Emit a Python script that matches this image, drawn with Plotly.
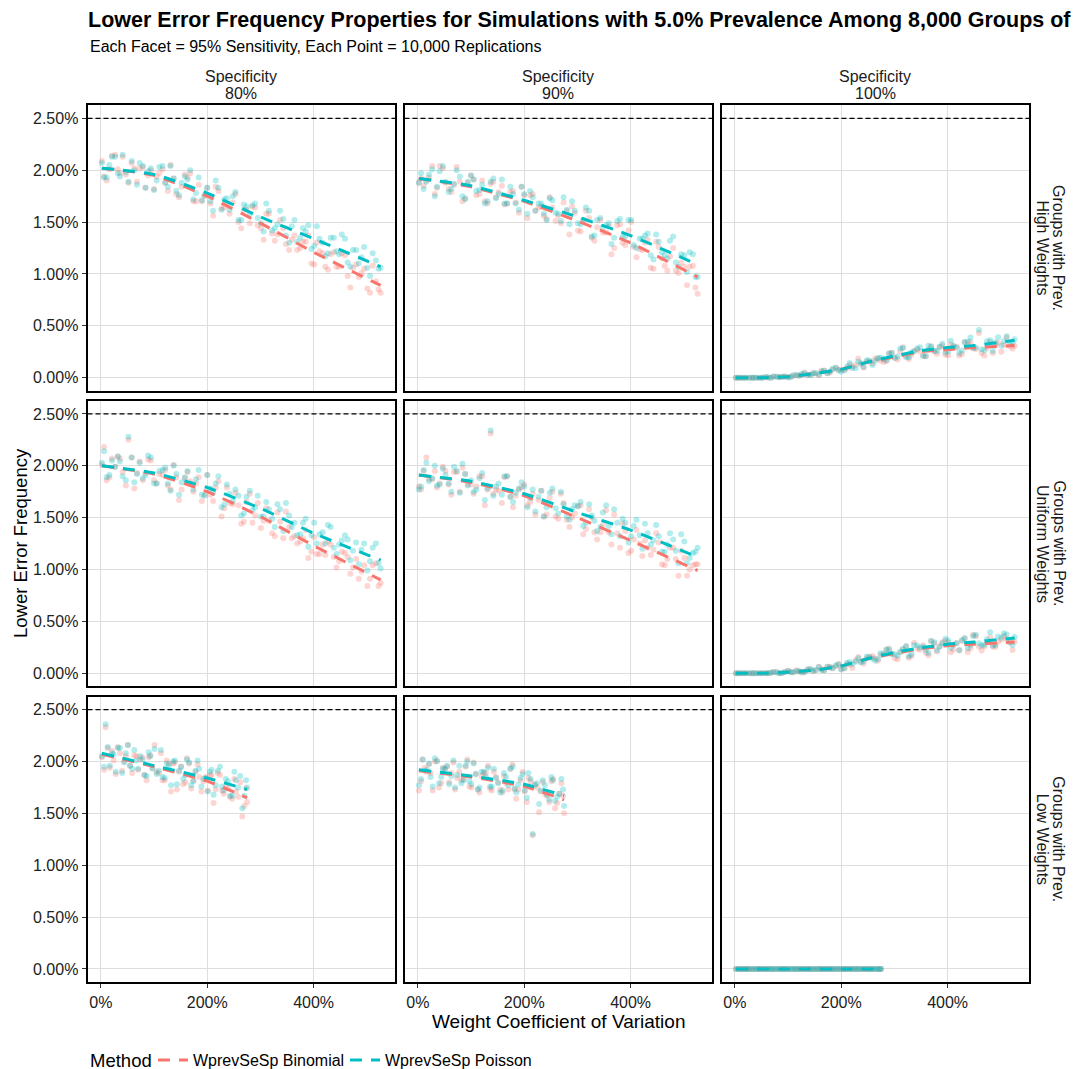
import plotly.graph_objects as go

W, H = 1084, 1069
OFF = 8  # page body margin of the html page (px)
FONT = "Liberation Sans, Arial, Helvetica, sans-serif"

METHODS = ["WprevSeSp Binomial", "WprevSeSp Poisson"]
COLORS = ["#F8766D", "#00BFC4"]
SPECIFICITY = ["80%", "90%", "100%"]
WEIGHTS = ["High Weights", "Uniform Weights", "Low Weights"]
Y_TICKS = [0.0, 0.5, 1.0, 1.5, 2.0, 2.5]
Y_TICK_TEXT = ["0.00%", "0.50%", "1.00%", "1.50%", "2.00%", "2.50%"]
X_TICKS = [0, 200, 400]
X_TICK_TEXT = ["0%", "200%", "400%"]
NOMINAL = 2.5  # nominal one-sided error (%)

# Weight coefficient of variation (%) of the simulated settings
X_FULL = [2, 11, 21, 32, 41, 52, 63, 73, 84, 94, 105, 116, 126, 137, 147, 158, 168, 179, 190, 200,
          211, 221, 232, 242, 253, 264, 274, 285, 295, 306, 316, 327, 337, 348, 359, 369, 380, 390,
          401, 411, 422, 432, 443, 453, 464, 474, 485, 495, 506, 517, 526]
X_FULL_B = [6, 16, 27, 36, 47, 58, 68, 79, 89, 100, 110, 121, 131, 142, 152, 163, 174, 184, 195, 206,
            216, 227, 237, 248, 259, 269, 280, 290, 301, 311, 322, 332, 343, 354, 364, 375, 385, 396,
            406, 417, 427, 438, 448, 459, 469, 480, 490, 501, 511, 522]
X_SHORT = [2, 9, 17, 24, 32, 40, 47, 55, 63, 70, 78, 86, 93, 101, 109, 116, 124, 132, 139, 147,
           155, 162, 170, 178, 185, 193, 201, 208, 216, 224, 231, 239, 247, 254, 262, 270, 275]
X_SHORT_B = [6, 13, 21, 28, 36, 44, 51, 59, 67, 74, 82, 90, 97, 105, 113, 120, 128, 136, 143, 151,
             159, 166, 174, 182, 189, 197, 205, 212, 220, 228, 235, 243, 251, 258, 266, 273]

# ---------------- Lower error frequency (%) : High weights row ----------------
HIGH_SP80_BIN = [2.09, 1.90, 2.14, 2.01, 2.13, 1.88, 2.02, 2.02, 1.83, 2.00, 1.94, 2.01, 1.80, 1.92, 1.74, 1.96, 1.97, 1.70, 1.70, 1.83,
                 1.56, 1.80, 1.64, 1.58, 1.77, 1.44, 1.62, 1.65, 1.47, 1.33, 1.58, 1.32, 1.52, 1.29, 1.33, 1.23, 1.31, 1.37, 1.09, 1.22,
                 1.07, 1.19, 1.07, 1.20, 0.98, 1.06, 0.97, 1.05, 0.82, 0.93, 0.82]
HIGH_SP80_POI = [2.07, 1.93, 2.13, 1.97, 2.15, 1.89, 2.00, 2.07, 1.83, 2.02, 1.90, 2.04, 1.84, 1.92, 1.76, 1.94, 2.00, 1.78, 1.71, 1.83,
                 1.61, 1.83, 1.72, 1.62, 1.79, 1.52, 1.65, 1.66, 1.54, 1.41, 1.61, 1.44, 1.61, 1.37, 1.46, 1.31, 1.44, 1.47, 1.27, 1.34,
                 1.17, 1.35, 1.22, 1.38, 1.11, 1.23, 1.10, 1.26, 0.98, 1.13, 1.06]
HIGH_SP80_BIN_B = [1.94, 2.01, 2.15, 1.97, 1.96, 2.07, 1.89, 2.03, 1.95, 1.82, 1.97, 1.88, 2.05, 1.77, 1.84, 1.93, 1.70, 1.86, 1.75, 1.68,
                   1.84, 1.63, 1.68, 1.69, 1.50, 1.62, 1.49, 1.64, 1.44, 1.58, 1.39, 1.38, 1.44, 1.23, 1.37, 1.25, 1.31, 1.10, 1.30, 1.20,
                   1.04, 1.21, 1.07, 1.18, 0.87, 1.09, 1.01, 0.86, 1.08, 0.85]
HIGH_SP80_POI_B = [1.93, 2.05, 2.13, 1.94, 1.98, 2.09, 1.86, 2.04, 1.99, 1.81, 2.03, 1.88, 2.04, 1.80, 1.88, 1.91, 1.72, 1.93, 1.76, 1.70,
                   1.90, 1.62, 1.73, 1.75, 1.52, 1.67, 1.58, 1.68, 1.49, 1.68, 1.42, 1.48, 1.53, 1.30, 1.52, 1.35, 1.41, 1.24, 1.46, 1.30,
                   1.20, 1.35, 1.19, 1.34, 1.07, 1.23, 1.16, 1.06, 1.20, 1.05]
HIGH_SP90_BIN = [1.88, 1.85, 1.93, 1.77, 2.04, 1.88, 1.79, 2.03, 1.70, 1.88, 1.91, 1.77, 1.70, 1.87, 1.74, 1.85, 1.68, 1.80, 1.59, 1.76,
                 1.76, 1.61, 1.65, 1.53, 1.64, 1.56, 1.69, 1.38, 1.59, 1.41, 1.61, 1.35, 1.45, 1.40, 1.46, 1.25, 1.48, 1.28, 1.50, 1.16,
                 1.23, 1.33, 1.05, 1.26, 1.08, 1.17, 1.03, 1.11, 0.89, 1.08, 0.81]
HIGH_SP90_POI = [1.88, 1.82, 1.96, 1.75, 1.99, 1.89, 1.82, 2.00, 1.75, 1.89, 1.91, 1.81, 1.68, 1.89, 1.73, 1.91, 1.68, 1.77, 1.62, 1.77,
                 1.80, 1.61, 1.68, 1.52, 1.71, 1.58, 1.74, 1.48, 1.61, 1.48, 1.64, 1.36, 1.52, 1.45, 1.49, 1.35, 1.53, 1.36, 1.52, 1.25,
                 1.34, 1.39, 1.14, 1.31, 1.18, 1.32, 1.11, 1.19, 1.02, 1.19, 0.97]
HIGH_SP90_BIN_B = [1.92, 1.90, 2.04, 1.83, 2.02, 1.82, 1.86, 1.89, 1.73, 1.95, 1.76, 1.90, 1.68, 1.89, 1.79, 1.67, 1.79, 1.69, 1.84, 1.54,
                   1.77, 1.64, 1.56, 1.74, 1.51, 1.49, 1.61, 1.65, 1.42, 1.52, 1.54, 1.32, 1.52, 1.40, 1.19, 1.47, 1.30, 1.42, 1.26, 1.24,
                   1.30, 1.06, 1.31, 1.15, 1.03, 1.25, 1.01, 1.07, 1.07, 0.87]
HIGH_SP90_POI_B = [1.97, 1.89, 2.01, 1.84, 2.04, 1.79, 1.87, 1.94, 1.72, 1.95, 1.80, 1.86, 1.70, 1.92, 1.77, 1.68, 1.84, 1.68, 1.84, 1.58,
                   1.74, 1.68, 1.58, 1.73, 1.59, 1.51, 1.62, 1.70, 1.49, 1.52, 1.61, 1.37, 1.54, 1.47, 1.29, 1.51, 1.36, 1.52, 1.28, 1.34,
                   1.37, 1.18, 1.38, 1.21, 1.15, 1.36, 1.07, 1.18, 1.21, 0.97]
HIGH_SP100_BIN = [0.000, 0.000, 0.000, 0.000, 0.000, 0.000, 0.001, 0.012, 0.003, 0.011, 0.011, 0.024, 0.027, 0.029, 0.046, 0.024, 0.068, 0.051, 0.095, 0.076,
                  0.090, 0.106, 0.185, 0.098, 0.154, 0.185, 0.165, 0.161, 0.237, 0.176, 0.294, 0.181, 0.257, 0.254, 0.203, 0.305, 0.230, 0.310, 0.217, 0.301,
                  0.213, 0.341, 0.343, 0.277, 0.237, 0.286, 0.237, 0.334, 0.316, 0.302, 0.308]
HIGH_SP100_POI = [0.000, 0.000, 0.000, 0.000, 0.000, 0.000, 0.001, 0.012, 0.003, 0.011, 0.003, 0.026, 0.037, 0.025, 0.040, 0.028, 0.066, 0.059, 0.095, 0.058,
                  0.108, 0.094, 0.155, 0.104, 0.166, 0.164, 0.194, 0.168, 0.240, 0.204, 0.286, 0.197, 0.255, 0.294, 0.209, 0.295, 0.258, 0.328, 0.255, 0.309,
                  0.239, 0.343, 0.387, 0.292, 0.274, 0.351, 0.258, 0.389, 0.351, 0.324, 0.370]
HIGH_SP100_BIN_B = [0.000, 0.000, 0.000, 0.000, 0.000, 0.007, 0.000, 0.010, 0.009, 0.006, 0.016, 0.021, 0.049, 0.025, 0.040, 0.067, 0.043, 0.078, 0.076, 0.077,
                    0.124, 0.122, 0.134, 0.155, 0.139, 0.184, 0.150, 0.235, 0.189, 0.253, 0.210, 0.220, 0.271, 0.214, 0.267, 0.252, 0.294, 0.220, 0.320, 0.296,
                    0.229, 0.330, 0.283, 0.431, 0.212, 0.341, 0.312, 0.251, 0.387, 0.282]
HIGH_SP100_POI_B = [0.000, 0.000, 0.000, 0.000, 0.000, 0.007, 0.000, 0.010, 0.009, 0.002, 0.026, 0.019, 0.043, 0.027, 0.044, 0.059, 0.043, 0.086, 0.072, 0.071,
                    0.142, 0.092, 0.140, 0.167, 0.122, 0.188, 0.180, 0.231, 0.192, 0.281, 0.196, 0.242, 0.281, 0.206, 0.308, 0.259, 0.297, 0.243, 0.357, 0.292,
                    0.261, 0.350, 0.285, 0.460, 0.263, 0.360, 0.341, 0.308, 0.400, 0.342]

# ---------------- Uniform weights row ----------------
UNIF_SP80_BIN = [2.01, 1.86, 2.07, 2.09, 1.94, 2.25, 1.78, 2.04, 1.93, 2.05, 1.83, 1.91, 1.81, 2.01, 1.67, 1.88, 1.85, 1.83, 1.66, 1.91,
                 1.66, 1.85, 1.59, 1.64, 1.74, 1.44, 1.65, 1.45, 1.64, 1.47, 1.47, 1.32, 1.46, 1.56, 1.30, 1.25, 1.30, 1.11, 1.31, 1.15,
                 1.14, 1.24, 1.02, 1.17, 1.12, 1.02, 0.91, 1.04, 0.91, 1.06, 0.87]
UNIF_SP80_POI = [2.03, 1.89, 2.05, 2.09, 1.90, 2.28, 1.84, 2.03, 1.91, 2.08, 1.83, 1.96, 1.83, 2.00, 1.72, 1.89, 1.83, 1.87, 1.72, 1.91,
                 1.74, 1.90, 1.63, 1.73, 1.77, 1.52, 1.70, 1.57, 1.71, 1.51, 1.58, 1.41, 1.58, 1.64, 1.41, 1.33, 1.45, 1.22, 1.45, 1.34,
                 1.25, 1.41, 1.15, 1.28, 1.29, 1.18, 1.05, 1.25, 1.08, 1.25, 1.01]
UNIF_SP80_BIN_B = [2.18, 1.89, 1.99, 2.07, 1.81, 2.08, 1.93, 1.86, 2.06, 1.86, 1.92, 1.96, 1.77, 1.89, 1.77, 1.94, 1.75, 1.89, 1.72, 1.72,
                   1.79, 1.51, 1.79, 1.63, 1.62, 1.46, 1.73, 1.52, 1.40, 1.59, 1.35, 1.55, 1.30, 1.41, 1.32, 1.27, 1.38, 1.17, 1.15, 1.24,
                   1.27, 1.12, 1.08, 1.16, 0.96, 1.10, 0.98, 0.84, 1.04, 0.84]
UNIF_SP80_POI_B = [2.14, 1.91, 1.99, 2.04, 1.86, 2.08, 1.92, 1.88, 2.10, 1.83, 1.95, 1.98, 1.76, 1.92, 1.84, 1.95, 1.77, 1.96, 1.71, 1.78,
                   1.83, 1.60, 1.82, 1.66, 1.71, 1.54, 1.76, 1.60, 1.51, 1.65, 1.49, 1.63, 1.37, 1.52, 1.45, 1.34, 1.49, 1.33, 1.25, 1.36,
                   1.43, 1.21, 1.24, 1.33, 1.09, 1.26, 1.19, 0.99, 1.21, 1.06]
UNIF_SP90_BIN = [1.80, 1.95, 1.87, 1.95, 1.83, 1.95, 1.72, 1.94, 1.98, 1.82, 1.73, 1.90, 1.62, 2.31, 1.77, 1.64, 1.90, 1.60, 1.77, 1.82,
                 1.65, 1.53, 1.76, 1.53, 1.75, 1.49, 1.64, 1.41, 1.54, 1.62, 1.39, 1.50, 1.29, 1.43, 1.36, 1.53, 1.21, 1.37, 1.18, 1.38,
                 1.13, 1.21, 1.19, 1.26, 1.04, 1.21, 1.10, 1.18, 0.94, 1.04, 1.05]
UNIF_SP90_POI = [1.77, 1.96, 1.85, 2.00, 1.82, 1.91, 1.75, 1.95, 2.02, 1.81, 1.75, 1.88, 1.67, 2.34, 1.80, 1.72, 1.90, 1.65, 1.78, 1.80,
                 1.69, 1.56, 1.76, 1.60, 1.78, 1.54, 1.63, 1.48, 1.62, 1.65, 1.45, 1.52, 1.37, 1.55, 1.42, 1.58, 1.32, 1.45, 1.32, 1.48,
                 1.20, 1.35, 1.28, 1.32, 1.17, 1.35, 1.18, 1.34, 1.06, 1.16, 1.21]
UNIF_SP90_BIN_B = [1.77, 2.08, 1.87, 1.79, 1.99, 1.82, 1.94, 1.75, 1.92, 1.82, 1.80, 1.90, 1.77, 1.73, 1.76, 1.89, 1.70, 1.71, 1.79, 1.62,
                   1.73, 1.67, 1.51, 1.69, 1.51, 1.73, 1.48, 1.50, 1.61, 1.34, 1.58, 1.36, 1.36, 1.57, 1.24, 1.35, 1.44, 1.16, 1.29, 1.25,
                   1.28, 1.14, 1.35, 1.05, 1.10, 1.21, 0.94, 1.11, 1.00, 1.05]
UNIF_SP90_POI_B = [1.80, 2.03, 1.88, 1.81, 1.97, 1.83, 1.99, 1.74, 1.92, 1.86, 1.77, 1.93, 1.78, 1.71, 1.83, 1.90, 1.70, 1.74, 1.84, 1.60,
                   1.77, 1.70, 1.51, 1.74, 1.59, 1.75, 1.51, 1.58, 1.61, 1.42, 1.63, 1.47, 1.41, 1.62, 1.34, 1.45, 1.49, 1.26, 1.42, 1.33,
                   1.44, 1.24, 1.43, 1.17, 1.24, 1.29, 1.06, 1.27, 1.11, 1.17]
UNIF_SP100_BIN = [0.000, 0.000, 0.000, 0.000, 0.000, 0.000, 0.000, 0.011, 0.000, 0.011, 0.012, 0.028, 0.007, 0.035, 0.018, 0.063, 0.027, 0.062, 0.068, 0.041,
                  0.088, 0.051, 0.155, 0.094, 0.159, 0.142, 0.176, 0.223, 0.191, 0.135, 0.230, 0.148, 0.293, 0.225, 0.198, 0.310, 0.209, 0.299, 0.294, 0.228,
                  0.219, 0.338, 0.241, 0.357, 0.220, 0.301, 0.257, 0.303, 0.361, 0.293, 0.304]
UNIF_SP100_POI = [0.000, 0.000, 0.000, 0.000, 0.000, 0.000, 0.000, 0.011, 0.000, 0.011, 0.010, 0.020, 0.011, 0.035, 0.024, 0.059, 0.029, 0.056, 0.076, 0.035,
                  0.100, 0.087, 0.143, 0.112, 0.153, 0.121, 0.193, 0.230, 0.182, 0.169, 0.234, 0.164, 0.273, 0.247, 0.227, 0.310, 0.222, 0.289, 0.315, 0.274,
                  0.224, 0.338, 0.272, 0.371, 0.267, 0.327, 0.268, 0.353, 0.384, 0.300, 0.350]
UNIF_SP100_BIN_B = [0.000, 0.000, 0.000, 0.000, 0.000, 0.000, 0.004, 0.010, 0.001, 0.026, 0.009, 0.013, 0.014, 0.040, 0.025, 0.038, 0.061, 0.047, 0.090, 0.048,
                    0.083, 0.122, 0.111, 0.144, 0.165, 0.120, 0.182, 0.237, 0.143, 0.202, 0.261, 0.165, 0.238, 0.269, 0.172, 0.286, 0.259, 0.313, 0.203, 0.288,
                    0.310, 0.204, 0.370, 0.256, 0.257, 0.344, 0.253, 0.326, 0.330, 0.223]
UNIF_SP100_POI_B = [0.000, 0.000, 0.000, 0.000, 0.000, 0.000, 0.004, 0.010, 0.001, 0.020, 0.009, 0.021, 0.010, 0.038, 0.031, 0.028, 0.063, 0.051, 0.084, 0.048,
                    0.107, 0.110, 0.105, 0.162, 0.142, 0.136, 0.188, 0.227, 0.182, 0.206, 0.259, 0.181, 0.266, 0.255, 0.195, 0.298, 0.254, 0.333, 0.242, 0.292,
                    0.321, 0.240, 0.359, 0.289, 0.275, 0.395, 0.271, 0.341, 0.372, 0.273]

# ---------------- Low weights row (shorter CV range) ----------------
LOW_SP80_BIN = [2.04, 2.33, 1.94, 2.01, 2.14, 1.91, 2.05, 1.96, 2.06, 1.92, 2.04, 1.82, 2.06, 2.16, 1.89, 1.82, 2.01, 1.71, 1.99, 1.90,
                1.78, 2.03, 1.74, 1.90, 1.85, 1.81, 1.72, 1.87, 1.73, 1.87, 1.69, 1.74, 1.64, 1.71, 1.80, 1.57, 1.61]
LOW_SP80_POI = [2.05, 2.36, 1.96, 2.07, 2.13, 1.89, 2.08, 1.96, 2.11, 1.93, 2.02, 1.86, 2.05, 2.12, 1.91, 1.85, 1.98, 1.77, 2.01, 1.91,
                1.83, 2.02, 1.77, 1.91, 1.93, 1.83, 1.71, 1.92, 1.77, 1.95, 1.72, 1.81, 1.67, 1.82, 1.86, 1.67, 1.75]
LOW_SP80_BIN_B = [1.92, 2.13, 2.10, 1.88, 2.08, 2.00, 2.16, 1.89, 2.05, 2.02, 1.87, 2.04, 1.94, 1.90, 2.08, 1.82, 1.98, 1.98, 1.73, 1.95,
                  1.80, 1.98, 1.82, 1.97, 1.71, 1.85, 1.87, 1.60, 1.89, 1.72, 1.75, 1.66, 1.83, 1.66, 1.47, 1.74]
LOW_SP80_POI_B = [1.95, 2.14, 2.08, 1.90, 2.13, 1.99, 2.16, 1.93, 2.01, 2.05, 1.87, 2.09, 1.93, 1.88, 2.11, 1.84, 1.96, 2.00, 1.78, 1.95,
                  1.87, 1.99, 1.81, 2.01, 1.76, 1.84, 1.90, 1.68, 1.91, 1.76, 1.83, 1.67, 1.90, 1.75, 1.55, 1.82]
LOW_SP90_BIN = [1.72, 2.02, 1.90, 1.89, 2.00, 1.75, 1.94, 1.95, 1.89, 1.73, 1.90, 1.83, 2.02, 1.75, 1.88, 1.70, 1.89, 1.96, 1.72, 1.85,
                1.73, 1.86, 1.73, 1.97, 1.64, 1.82, 1.71, 1.84, 1.29, 1.75, 1.71, 1.69, 1.61, 1.83, 1.60, 1.79, 1.50]
LOW_SP90_POI = [1.77, 2.02, 1.92, 1.85, 2.03, 1.79, 1.93, 1.96, 1.86, 1.75, 1.96, 1.82, 2.00, 1.78, 1.88, 1.75, 1.90, 1.94, 1.76, 1.84,
                1.70, 1.89, 1.77, 1.95, 1.70, 1.84, 1.72, 1.89, 1.30, 1.79, 1.72, 1.77, 1.63, 1.82, 1.66, 1.83, 1.57]
LOW_SP90_BIN_B = [1.81, 1.94, 1.97, 1.72, 2.01, 1.79, 1.93, 1.80, 1.99, 1.84, 1.82, 1.95, 1.76, 1.99, 1.73, 1.86, 1.89, 1.74, 1.90, 1.80,
                  1.70, 1.79, 1.93, 1.73, 1.73, 1.90, 1.61, 1.81, 1.78, 1.51, 1.80, 1.67, 1.81, 1.55, 1.69, 1.67]
LOW_SP90_POI_B = [1.83, 1.91, 1.98, 1.76, 2.00, 1.85, 1.93, 1.78, 2.01, 1.87, 1.79, 1.96, 1.81, 1.98, 1.73, 1.90, 1.85, 1.76, 1.93, 1.79,
                  1.72, 1.85, 1.93, 1.74, 1.78, 1.88, 1.65, 1.83, 1.77, 1.59, 1.82, 1.68, 1.85, 1.62, 1.69, 1.73]
LOW_SP100_BIN = [0, 0, 0, 0, 0, 0, 0, 0, 0, 0, 0, 0, 0, 0, 0, 0, 0, 0, 0, 0, 0, 0, 0, 0, 0, 0, 0, 0, 0, 0, 0, 0, 0, 0, 0, 0, 0]
LOW_SP100_POI = [0, 0, 0, 0, 0, 0, 0, 0, 0, 0, 0, 0, 0, 0, 0, 0, 0, 0, 0, 0, 0, 0, 0, 0, 0, 0, 0, 0, 0, 0, 0, 0, 0, 0, 0, 0, 0]
LOW_SP100_BIN_B = [0, 0, 0, 0, 0, 0, 0, 0, 0, 0, 0, 0, 0, 0, 0, 0, 0, 0, 0, 0, 0, 0, 0, 0, 0, 0, 0, 0, 0, 0, 0, 0, 0, 0, 0, 0]
LOW_SP100_POI_B = [0, 0, 0, 0, 0, 0, 0, 0, 0, 0, 0, 0, 0, 0, 0, 0, 0, 0, 0, 0, 0, 0, 0, 0, 0, 0, 0, 0, 0, 0, 0, 0, 0, 0, 0, 0]

# ---------------- Smoothed trend lines ----------------
FIT_X_LIN = [2, 100, 200, 300, 400, 526]
FIT_X_SP100 = [2, 50, 100, 150, 200, 250, 300, 350, 400, 450, 526]
FIT_X_SHORT = [2, 100, 200, 275]
HIGH_SP80_BIN_FIT = [2.02, 1.95, 1.75, 1.49, 1.21, 0.89]
HIGH_SP80_POI_FIT = [2.02, 1.96, 1.78, 1.55, 1.34, 1.07]
HIGH_SP90_BIN_FIT = [1.92, 1.84, 1.70, 1.51, 1.30, 0.97]
HIGH_SP90_POI_FIT = [1.92, 1.85, 1.71, 1.55, 1.37, 1.09]
HIGH_SP100_BIN_FIT = [0, 0, 0.01, 0.04, 0.08, 0.15, 0.20, 0.25, 0.27, 0.29, 0.31]
HIGH_SP100_POI_FIT = [0, 0, 0.01, 0.04, 0.08, 0.15, 0.21, 0.26, 0.29, 0.31, 0.36]
UNIF_SP80_BIN_FIT = [2.00, 1.92, 1.75, 1.51, 1.23, 0.90]
UNIF_SP80_POI_FIT = [2.00, 1.93, 1.79, 1.59, 1.35, 1.09]
UNIF_SP90_BIN_FIT = [1.91, 1.84, 1.71, 1.50, 1.28, 0.99]
UNIF_SP90_POI_FIT = [1.91, 1.85, 1.73, 1.55, 1.38, 1.12]
UNIF_SP100_BIN_FIT = [0, 0, 0.01, 0.03, 0.07, 0.14, 0.19, 0.235, 0.265, 0.28, 0.30]
UNIF_SP100_POI_FIT = [0, 0, 0.01, 0.03, 0.07, 0.14, 0.20, 0.245, 0.28, 0.30, 0.34]
LOW_SP80_BIN_FIT = [2.07, 1.95, 1.81, 1.65]
LOW_SP80_POI_FIT = [2.08, 1.96, 1.84, 1.73]
LOW_SP90_BIN_FIT = [1.91, 1.85, 1.76, 1.63]
LOW_SP90_POI_FIT = [1.92, 1.86, 1.78, 1.67]
LOW_SP100_BIN_FIT = [0, 0, 0, 0]
LOW_SP100_POI_FIT = [0, 0, 0, 0]

PANELS = {
    (0, 0): (X_FULL + X_FULL_B, HIGH_SP80_BIN + HIGH_SP80_BIN_B, HIGH_SP80_POI + HIGH_SP80_POI_B, FIT_X_LIN, HIGH_SP80_BIN_FIT, HIGH_SP80_POI_FIT),
    (0, 1): (X_FULL + X_FULL_B, HIGH_SP90_BIN + HIGH_SP90_BIN_B, HIGH_SP90_POI + HIGH_SP90_POI_B, FIT_X_LIN, HIGH_SP90_BIN_FIT, HIGH_SP90_POI_FIT),
    (0, 2): (X_FULL + X_FULL_B, HIGH_SP100_BIN + HIGH_SP100_BIN_B, HIGH_SP100_POI + HIGH_SP100_POI_B, FIT_X_SP100, HIGH_SP100_BIN_FIT, HIGH_SP100_POI_FIT),
    (1, 0): (X_FULL + X_FULL_B, UNIF_SP80_BIN + UNIF_SP80_BIN_B, UNIF_SP80_POI + UNIF_SP80_POI_B, FIT_X_LIN, UNIF_SP80_BIN_FIT, UNIF_SP80_POI_FIT),
    (1, 1): (X_FULL + X_FULL_B, UNIF_SP90_BIN + UNIF_SP90_BIN_B, UNIF_SP90_POI + UNIF_SP90_POI_B, FIT_X_LIN, UNIF_SP90_BIN_FIT, UNIF_SP90_POI_FIT),
    (1, 2): (X_FULL + X_FULL_B, UNIF_SP100_BIN + UNIF_SP100_BIN_B, UNIF_SP100_POI + UNIF_SP100_POI_B, FIT_X_SP100, UNIF_SP100_BIN_FIT, UNIF_SP100_POI_FIT),
    (2, 0): (X_SHORT + X_SHORT_B, LOW_SP80_BIN + LOW_SP80_BIN_B, LOW_SP80_POI + LOW_SP80_POI_B, FIT_X_SHORT, LOW_SP80_BIN_FIT, LOW_SP80_POI_FIT),
    (2, 1): (X_SHORT + X_SHORT_B, LOW_SP90_BIN + LOW_SP90_BIN_B, LOW_SP90_POI + LOW_SP90_POI_B, FIT_X_SHORT, LOW_SP90_BIN_FIT, LOW_SP90_POI_FIT),
    (2, 2): (X_SHORT + X_SHORT_B, LOW_SP100_BIN + LOW_SP100_BIN_B, LOW_SP100_POI + LOW_SP100_POI_B, FIT_X_SHORT, LOW_SP100_BIN_FIT, LOW_SP100_POI_FIT),
}

# ---- layout geometry (target pixels on the page) ----
COL_PX = [(87.5, 395.0), (404.5, 712.0), (721.5, 1029.0)]
ROW_PX = [(105.5, 391.0), (401.3, 686.8), (697.3, 982.8)]
X_RANGE = [-25, 553]
Y_RANGE = [-0.125, 2.625]


def px_x(v):
    return (v - OFF) / W


def px_y(v):
    return 1 - (v - OFF) / H


fig = go.Figure()
layout = {}
shapes = []
annotations = []

for (r, c), (xs, yb, yp, fx, fb, fp) in PANELS.items():
    k = r * 3 + c + 1
    xname = "x" if k == 1 else f"x{k}"
    yname = "y" if k == 1 else f"y{k}"
    for yv, col, m in ((yb, COLORS[0], METHODS[0]), (yp, COLORS[1], METHODS[1])):
        fig.add_trace(go.Scatter(
            x=xs, y=yv, mode="markers", xaxis=xname, yaxis=yname,
            marker=dict(size=6, color=col, opacity=0.3, line=dict(width=0)),
            showlegend=False, legendgroup=m, hoverinfo="skip"))
    for fv, col, m in ((fb, COLORS[0], METHODS[0]), (fp, COLORS[1], METHODS[1])):
        fig.add_trace(go.Scatter(
            x=fx, y=fv, mode="lines", xaxis=xname, yaxis=yname, name=m,
            line=dict(color=col, width=3, dash="12px,9px", shape="spline", smoothing=0.6),
            showlegend=(k == 1), legendgroup=m))

    x0, x1 = COL_PX[c]
    y0, y1 = ROW_PX[r]
    common = dict(showline=True, mirror=True, linecolor="black", linewidth=1.8,
                  showgrid=True, gridcolor="#DEDEDE", gridwidth=1.1, zeroline=False,
                  tickfont=dict(family=FONT, size=16, color="#222222"),
                  tickcolor="#333333", ticklen=4, tickwidth=1)
    layout["xaxis" if k == 1 else f"xaxis{k}"] = dict(
        common, domain=[px_x(x0), px_x(x1)], anchor=yname, range=X_RANGE,
        tickmode="array", tickvals=X_TICKS, ticktext=X_TICK_TEXT, ticklabelstandoff=1,
        showticklabels=(r == 2), ticks="outside" if r == 2 else "")
    layout["yaxis" if k == 1 else f"yaxis{k}"] = dict(
        common, domain=[px_y(y1), px_y(y0)], anchor=xname, range=Y_RANGE,
        tickmode="array", tickvals=Y_TICKS, ticktext=Y_TICK_TEXT,
        showticklabels=(c == 0), ticks="outside" if c == 0 else "")
    shapes.append(dict(type="line", xref=f"{xname} domain", yref=yname,
                       x0=0, x1=1, y0=NOMINAL, y1=NOMINAL,
                       line=dict(color="black", width=1.1, dash="5px,3px"), layer="above"))

strip_font = dict(family=FONT, size=16, color="#1A1A1A")
for c, sp in enumerate(SPECIFICITY):
    xc = px_x((COL_PX[c][0] + COL_PX[c][1]) / 2)
    annotations.append(dict(text="Specificity", x=xc, y=px_y(76.5), xref="paper", yref="paper",
                            showarrow=False, xanchor="center", yanchor="middle", font=strip_font))
    annotations.append(dict(text=sp, x=xc, y=px_y(94), xref="paper", yref="paper",
                            showarrow=False, xanchor="center", yanchor="middle", font=strip_font))
for r, wt in enumerate(WEIGHTS):
    yc = px_y((ROW_PX[r][0] + ROW_PX[r][1]) / 2)
    annotations.append(dict(text="Groups with Prev.", x=px_x(1059), y=yc, xref="paper", yref="paper",
                            showarrow=False, textangle=90, xanchor="center", yanchor="middle", font=strip_font))
    annotations.append(dict(text=wt, x=px_x(1042.5), y=yc, xref="paper", yref="paper",
                            showarrow=False, textangle=90, xanchor="center", yanchor="middle", font=strip_font))

annotations.append(dict(text="Weight Coefficient of Variation", x=px_x(558.25), y=px_y(1022),
                        xref="paper", yref="paper", showarrow=False, xanchor="center", yanchor="middle",
                        font=dict(family=FONT, size=19, color="black")))
annotations.append(dict(text="Lower Error Frequency", x=0, y=px_y(544),
                        xref="paper", yref="paper", showarrow=False, textangle=-90,
                        xanchor="left", yanchor="middle",
                        font=dict(family=FONT, size=18.5, color="black")))
annotations.append(dict(text="Each Facet = 95% Sensitivity, Each Point = 10,000 Replications",
                        x=px_x(88), y=px_y(47), xref="paper", yref="paper", showarrow=False,
                        xanchor="left", yanchor="middle",
                        font=dict(family=FONT, size=16, color="black")))
annotations.append(dict(text="Method", x=px_x(88), y=px_y(1061), xref="paper", yref="paper",
                        showarrow=False, xanchor="left", yanchor="middle",
                        font=dict(family=FONT, size=18.5, color="black")))

fig.update_layout(
    width=W, height=H,
    margin=dict(l=0, r=0, t=0, b=0),
    paper_bgcolor="white", plot_bgcolor="white",
    title=dict(text="<b>Lower Error Frequency Properties for Simulations with 5.0% Prevalence Among 8,000 Groups of 10</b>",
               x=px_x(88), xanchor="left", y=px_y(19), yanchor="middle", xref="paper", yref="paper",
               font=dict(family=FONT, size=21.5, color="black")),
    legend=dict(orientation="h", x=px_x(153), xanchor="left", y=px_y(1061), yanchor="middle",
                font=dict(family=FONT, size=16, color="black"), bgcolor="rgba(0,0,0,0)",
                itemwidth=30, tracegroupgap=0, entrywidth=147, entrywidthmode="pixels"),
    shapes=shapes, annotations=annotations,
    **layout,
)

fig.write_html("out.html")
